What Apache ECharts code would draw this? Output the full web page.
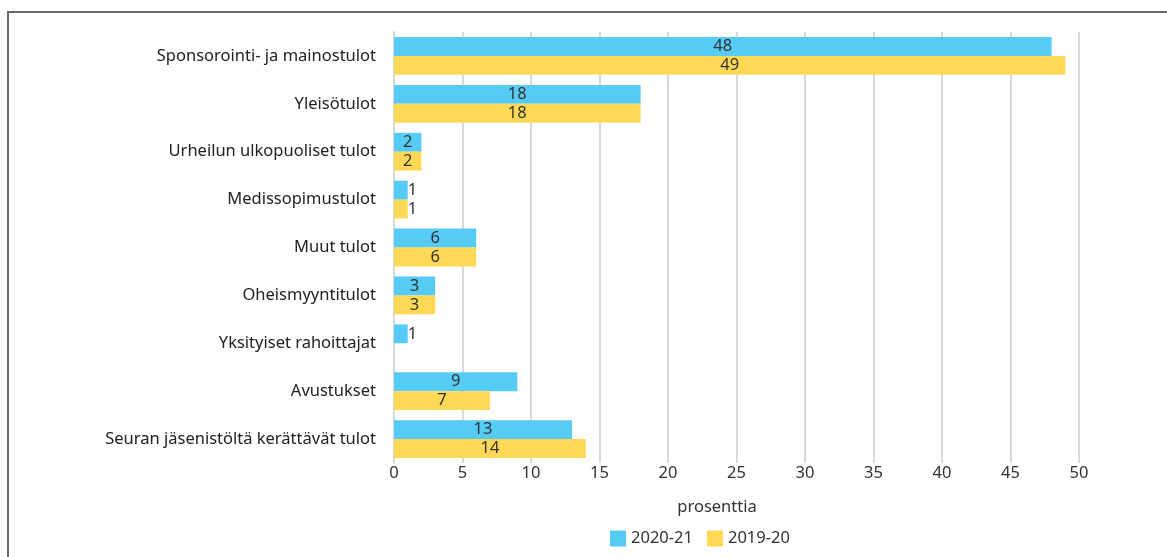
<!DOCTYPE html>
<html>
<head>
<meta charset="utf-8">
<script src="https://cdn.jsdelivr.net/npm/echarts@6/dist/echarts.min.js"></script>
<style>
  html, body { margin: 0; padding: 0; background: #fff; }
  #frame { position: absolute; left: 7px; top: 11px; width: 1200px; height: 600px; border-left: 2px solid #6b6b6b; border-top: 2px solid #6b6b6b; }
  #chart { position: absolute; left: 0; top: 0; width: 1167px; height: 557px; }
</style>
</head>
<body>
<div id="frame"></div>
<div id="chart"></div>
<script>
var categories = [
  'Sponsorointi- ja mainostulot',
  'Yleisötulot',
  'Urheilun ulkopuoliset tulot',
  'Medissopimustulot',
  'Muut tulot',
  'Oheismyyntitulot',
  'Yksityiset rahoittajat',
  'Avustukset',
  'Seuran jäsenistöltä kerättävät tulot'
];
var values2021 = [48, 18, 2, 1, 6, 3, 1, 9, 13];
var values1920 = [49, 18, 2, 1, 6, 3, null, 7, 14];
var xTicks = [0, 5, 10, 15, 20, 25, 30, 35, 40, 45, 50];

var font = 'Noto Sans';
var fs = 16.5;

function toItems(arr) {
  // pienet arvot: label palkin oikealle puolelle
  return arr.map(function (v) {
    if (v == null) return null;
    if (v < 1.5) {
      return { value: v, label: { position: 'right', distance: 0 } };
    }
    return v;
  });
}

var chart = echarts.init(document.getElementById('chart'));

var barLabel = {
  show: true,
  position: 'inside',
  color: '#333',
  fontFamily: font,
  fontSize: fs
};

chart.setOption({
  animation: false,
  textStyle: { fontFamily: font },
  grid: { left: 394, right: 88, top: 32, height: 431 },
  title: {
    text: 'prosenttia',
    left: 712,
    top: 494,
    textAlign: 'center',
    textStyle: { fontFamily: font, fontSize: fs, fontWeight: 'normal', color: '#333' }
  },
  legend: {
    left: 605,
    top: 525,
    itemWidth: 16,
    itemHeight: 16,
    itemGap: 14,
    icon: 'rect',
    textStyle: { fontFamily: font, fontSize: fs, color: '#333' },
    data: ['2020-21', '2019-20']
  },
  xAxis: {
    type: 'value',
    min: xTicks[0],
    max: xTicks[xTicks.length - 1],
    interval: 5,
    axisLine: { show: false },
    axisTick: { show: false },
    axisLabel: { color: '#333', fontSize: fs, fontFamily: font, margin: 2 },
    splitLine: { lineStyle: { color: '#d9d9d9', width: 2 } }
  },
  yAxis: {
    type: 'category',
    inverse: true,
    data: categories,
    axisLine: { show: true, lineStyle: { color: '#d9d9d9', width: 2 } },
    axisTick: { show: false },
    axisLabel: { color: '#222', fontSize: fs, fontFamily: font, margin: 18 }
  },
  series: [
    {
      name: '2020-21',
      type: 'bar',
      data: toItems(values2021),
      barGap: '0%',
      barCategoryGap: '21%',
      itemStyle: { color: '#56cbf5' },
      label: barLabel
    },
    {
      name: '2019-20',
      type: 'bar',
      data: toItems(values1920),
      barGap: '0%',
      barCategoryGap: '21%',
      itemStyle: { color: '#ffd955' },
      label: barLabel
    }
  ]
});
</script>
</body>
</html>
